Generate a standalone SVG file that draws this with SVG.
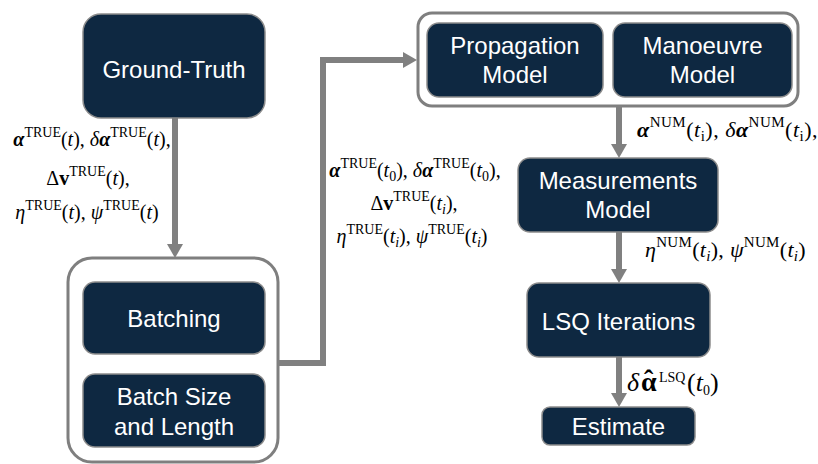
<svg xmlns="http://www.w3.org/2000/svg" width="818" height="464" viewBox="0 0 818 464">
<defs>
<style>
.node rect{fill:#0e2841;stroke:#8c8c8c;stroke-width:1.5}
.node text{fill:#fff;font-family:"Liberation Sans",Arial,sans-serif;font-size:24px;text-anchor:middle}
.conn{fill:none;stroke:#808080;stroke-width:6}
.math{font-family:"Liberation Serif","DejaVu Serif",serif;font-size:20px;fill:#000}
.big{font-size:22px}
.ba{font-weight:bold;font-style:italic}
.bu{font-weight:bold}
.it{font-style:italic}
.sm{font-size:14px;font-style:normal;font-weight:normal}
.smi{font-size:14px;font-style:italic;font-weight:normal}
.big .sm,.big .smi{font-size:15px}
</style>
<marker id="ah" markerUnits="userSpaceOnUse" markerWidth="14" markerHeight="16" refX="0" refY="8" orient="auto" viewBox="0 0 14 16">
<path d="M0,0 L14,8 L0,16 z" fill="#808080"/>
</marker>
</defs>
<rect width="818" height="464" fill="#fff"/>

<g id="top-group" class="node">
<rect x="418" y="13" width="380" height="93" rx="14" style="fill:#fff;stroke:#7f7f7f;stroke-width:3"/>
</g>
<g id="propagation-model" class="node">
<rect x="427" y="23" width="176" height="74" rx="12"/>
<text x="515" y="54">Propagation</text>
<text x="515" y="83">Model</text>
</g>
<g id="manoeuvre-model" class="node">
<rect x="613" y="23" width="179" height="74" rx="12"/>
<text x="702.5" y="54">Manoeuvre</text>
<text x="702.5" y="83">Model</text>
</g>

<g id="ground-truth" class="node">
<rect x="83" y="14" width="182" height="104" rx="18"/>
<text x="174" y="78">Ground-Truth</text>
</g>

<g id="batch-group" class="node">
<rect x="68" y="258" width="210" height="204" rx="24" style="fill:#fff;stroke:#7f7f7f;stroke-width:3"/>
</g>
<g id="batching" class="node">
<rect x="83" y="282" width="182" height="72" rx="12"/>
<text x="174" y="327">Batching</text>
</g>
<g id="batch-size" class="node">
<rect x="83" y="374" width="182" height="73" rx="12"/>
<text x="174" y="405">Batch Size</text>
<text x="174" y="435">and Length</text>
</g>

<g id="measurements-model" class="node">
<rect x="518" y="158" width="200" height="74" rx="12"/>
<text x="618" y="189">Measurements</text>
<text x="618" y="218">Model</text>
</g>
<g id="lsq-iterations" class="node">
<rect x="527" y="283" width="183" height="74" rx="12"/>
<text x="618.5" y="330">LSQ Iterations</text>
</g>
<g id="estimate" class="node">
<rect x="542" y="407" width="153" height="38" rx="8"/>
<text x="618.5" y="435">Estimate</text>
</g>

<g id="connectors">
<path class="conn" d="M175,118 V244" marker-end="url(#ah)"/>
<path class="conn" d="M278,363 H323 V60 H403" marker-end="url(#ah)"/>
<path class="conn" d="M619,106 V144" marker-end="url(#ah)"/>
<path class="conn" d="M619,232 V269" marker-end="url(#ah)"/>
<path class="conn" d="M619,357 V393" marker-end="url(#ah)"/>
</g>

<g id="labels" class="math">
<text x="92" y="146" text-anchor="middle"><tspan class="ba">α</tspan><tspan class="sm" dy="-9">TRUE</tspan><tspan dy="9">(</tspan><tspan class="it">t</tspan><tspan>), </tspan><tspan class="it">δ</tspan><tspan class="ba">α</tspan><tspan class="sm" dy="-9">TRUE</tspan><tspan dy="9">(</tspan><tspan class="it">t</tspan><tspan>),</tspan></text>
<text x="88" y="185" text-anchor="middle"><tspan>Δ</tspan><tspan class="bu">v</tspan><tspan class="sm" dy="-9">TRUE</tspan><tspan dy="9">(</tspan><tspan class="it">t</tspan><tspan>),</tspan></text>
<text x="87" y="219" text-anchor="middle"><tspan class="it">η</tspan><tspan class="sm" dy="-9">TRUE</tspan><tspan dy="9">(</tspan><tspan class="it">t</tspan><tspan>), </tspan><tspan class="it">ψ</tspan><tspan class="sm" dy="-9">TRUE</tspan><tspan dy="9">(</tspan><tspan class="it">t</tspan><tspan>)</tspan></text>

<text x="415" y="177" text-anchor="middle"><tspan class="ba">α</tspan><tspan class="sm" dy="-9">TRUE</tspan><tspan dy="9">(</tspan><tspan class="it">t</tspan><tspan class="sm" dy="4">0</tspan><tspan dy="-4">), </tspan><tspan class="it">δ</tspan><tspan class="ba">α</tspan><tspan class="sm" dy="-9">TRUE</tspan><tspan dy="9">(</tspan><tspan class="it">t</tspan><tspan class="sm" dy="4">0</tspan><tspan dy="-4">),</tspan></text>
<text x="414" y="210" text-anchor="middle"><tspan>Δ</tspan><tspan class="bu">v</tspan><tspan class="sm" dy="-9">TRUE</tspan><tspan dy="9">(</tspan><tspan class="it">t</tspan><tspan class="smi" dy="4">i</tspan><tspan dy="-4">),</tspan></text>
<text x="412" y="243" text-anchor="middle"><tspan class="it">η</tspan><tspan class="sm" dy="-9">TRUE</tspan><tspan dy="9">(</tspan><tspan class="it">t</tspan><tspan class="smi" dy="4">i</tspan><tspan dy="-4">), </tspan><tspan class="it">ψ</tspan><tspan class="sm" dy="-9">TRUE</tspan><tspan dy="9">(</tspan><tspan class="it">t</tspan><tspan class="smi" dy="4">i</tspan><tspan dy="-4">)</tspan></text>

<text class="big" x="637" y="137" letter-spacing="0.5"><tspan class="ba">α</tspan><tspan class="sm" dy="-10">NUM</tspan><tspan dy="10">(</tspan><tspan class="it">t</tspan><tspan class="sm" dy="4">i</tspan><tspan dy="-4">), </tspan><tspan class="it">δ</tspan><tspan class="ba">α</tspan><tspan class="sm" dy="-10">NUM</tspan><tspan dy="10">(</tspan><tspan class="it">t</tspan><tspan class="sm" dy="4">i</tspan><tspan dy="-4">),</tspan></text>
<text class="big" x="645" y="257" letter-spacing="0.3"><tspan class="it">η</tspan><tspan class="sm" dy="-10">NUM</tspan><tspan dy="10">(</tspan><tspan class="it">t</tspan><tspan class="smi" dy="4">i</tspan><tspan dy="-4">), </tspan><tspan class="it">ψ</tspan><tspan class="sm" dy="-10">NUM</tspan><tspan dy="10">(</tspan><tspan class="it">t</tspan><tspan class="smi" dy="4">i</tspan><tspan dy="-4">)</tspan></text>
<text x="627" y="391" style="font-size:26px"><tspan class="it">δ</tspan><tspan class="bu" x="641" style="font-size:28px">α</tspan><tspan class="bu" x="644" y="389" style="font-size:28px">ˆ</tspan><tspan class="sm" x="659" y="382" style="font-size:14px">LSQ</tspan><tspan x="687" y="391">(</tspan><tspan class="it">t</tspan><tspan class="sm" dy="4" style="font-size:14px">0</tspan><tspan dy="-4">)</tspan></text>
</g>
</svg>
